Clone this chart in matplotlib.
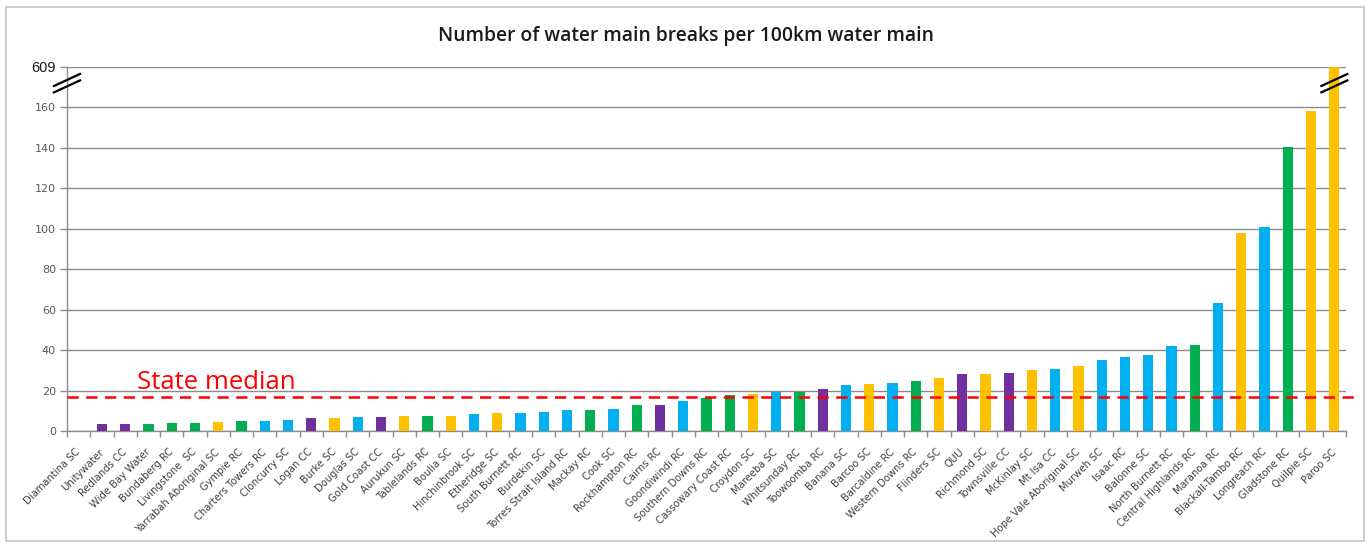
import matplotlib
matplotlib.use("Agg")
import matplotlib.pyplot as plt
import matplotlib.transforms as mtransforms
from matplotlib.lines import Line2D
from matplotlib.patches import Rectangle

# ---- data ---------------------------------------------------------------
councils = [
    "Diamantina SC", "Unitywater", "Redlands CC", "Wide Bay Water", "Bundaberg RC",
    "Livingstone  SC", "Yarrabah Aboriginal SC", "Gympie RC", "Charters Towers RC",
    "Cloncurry SC", "Logan CC", "Burke SC", "Douglas SC", "Gold Coast CC", "Aurukun SC",
    "Tablelands RC", "Boulia SC", "Hinchinbrook SC", "Etheridge SC", "South Burnett RC",
    "Burdekin SC", "Torres Strait Island RC", "Mackay RC", "Cook SC", "Rockhampton RC",
    "Cairns RC", "Goondiwindi RC", "Southern Downs RC", "Cassowary Coast RC", "Croydon SC",
    "Mareeba SC", "Whitsunday RC", "Toowoomba RC", "Banana SC", "Barcoo SC",
    "Barcaldine RC", "Western Downs RC", "Flinders SC", "QUU", "Richmond SC",
    "Townsville CC", "McKinlay SC", "Mt Isa CC", "Hope Vale Aboriginal SC", "Murweh SC",
    "Isaac RC", "Balonne SC", "North Burnett RC", "Central Highlands RC", "Maranoa RC",
    "Blackall-Tambo RC", "Longreach RC", "Gladstone RC", "Quilpie SC", "Paroo SC",
]

breaks_per_100km = [
    0.0, 3.7, 3.7, 3.7, 4.2,
    4.2, 4.3, 5.0, 5.0,
    5.3, 6.3, 6.3, 7.0, 7.0, 7.3,
    7.3, 7.3, 8.3, 9.0, 9.0,
    9.3, 10.3, 10.3, 11.0, 12.7,
    13.0, 15.0, 16.5, 17.9, 18.5,
    19.3, 19.3, 20.8, 22.8, 23.3,
    23.5, 24.6, 26.4, 28.2, 28.2,
    28.8, 30.1, 30.7, 32.2, 35.2,
    36.7, 37.4, 42.0, 42.5, 63.1,
    98.0, 101.0, 140.5, 158.0, 609.0,
]

# service-provider group of each council (drives bar colour)
groups = [
    "P", "P", "P", "G", "G",
    "G", "Y", "G", "B",
    "B", "P", "Y", "B", "P", "Y",
    "G", "Y", "B", "Y", "B",
    "B", "B", "G", "B", "G",
    "P", "B", "G", "G", "Y",
    "B", "G", "P", "B", "Y",
    "B", "G", "Y", "P", "Y",
    "P", "Y", "B", "Y", "B",
    "B", "B", "B", "G", "B",
    "Y", "B", "G", "Y", "Y",
]

state_median = 17.0
y_ticks = [0, 20, 40, 60, 80, 100, 120, 140, 160, 180]
break_at = 172  # where the broken axis is marked

group_colours = {"P": "#7030A0", "G": "#00B050", "B": "#00B0F0", "Y": "#FFC000"}

# ---- figure ---------------------------------------------------------------
W, H = 1368, 544
fig = plt.figure(figsize=(W / 100, H / 100), dpi=100)
fig.patch.set_facecolor("white")

# outer chart frame
fig.add_artist(Rectangle((6 / W, 3 / H), (1364 - 6) / W, (537 - 3) / H,
                         transform=fig.transFigure, fill=False,
                         edgecolor="#C8C8C8", linewidth=1.3))

ax_l, ax_r, ax_t, ax_b = 67, 1346, 67, 431
ax = fig.add_axes([ax_l / W, 1 - ax_b / H, (ax_r - ax_l) / W, (ax_b - ax_t) / H])

n = len(councils)
x = list(range(n))
ax.bar(x, breaks_per_100km, width=0.44,
       color=[group_colours[g] for g in groups], zorder=3)

ax.set_xlim(-0.5, n - 0.5)
ax.set_ylim(y_ticks[0], y_ticks[-1])

# y axis: the top tick stands for the clipped maximum
ax.set_yticks(y_ticks)
ylabels = [str(t) for t in y_ticks]
ylabels[-1] = str(int(max(breaks_per_100km)))
ax.set_yticklabels(ylabels)
for lbl in ax.get_yticklabels():
    lbl.set_fontsize(8)
    lbl.set_color("#595959")
top_lbl = ax.get_yticklabels()[-1]
top_lbl.set_fontsize(10.5)
top_lbl.set_color("#1a1a1a")
top_lbl.set_fontfamily("Liberation Sans")
ax.tick_params(axis="y", length=5, width=1, color="#8C8C8C", pad=3)

ax.yaxis.grid(True, color="#8C8C8C", linewidth=1.0, zorder=0)
ax.set_axisbelow(True)

# x axis: category labels, ticks between categories
ax.set_xticks(x)
ax.set_xticklabels(councils, rotation=45, ha="right", va="center",
                   rotation_mode="anchor", fontsize=7.2, color="#404040")
ax.tick_params(axis="x", which="major", length=0, pad=14)
ax.set_xticks([i + 0.5 for i in range(-1, n)], minor=True)
ax.tick_params(axis="x", which="minor", length=4, width=1, color="#8C8C8C")

for side in ("top", "right"):
    ax.spines[side].set_visible(False)
for side in ("left", "bottom"):
    ax.spines[side].set_color("#8C8C8C")
    ax.spines[side].set_linewidth(1.0)

# state median reference line and label
ax.axhline(state_median, xmin=0, xmax=1.007, color="#FF0000", linewidth=1.8,
           linestyle=(0, (4.5, 3)), clip_on=False, zorder=4)
ax.text(0.0547, 20.6, "State median", transform=ax.get_yaxis_transform(),
        color="#FF0000", fontsize=18.5, family="Open Sans", va="baseline", ha="left")


def break_marks(xd):
    """Two short parallel slashes centred on (xd, break_at)."""
    fig.canvas.draw()
    px, py = ax.transData.transform((xd, break_at))
    for dy in (-3.2, 3.2):
        line = Line2D([px - 13, px + 13], [py + dy - 6, py + dy + 6],
                      transform=mtransforms.IdentityTransform(),
                      color="black", linewidth=1.6, zorder=6)
        fig.add_artist(line)


# axis-break marks on the y axis and on the clipped bar
break_marks(-0.5)
break_marks(breaks_per_100km.index(max(breaks_per_100km)))

# title
fig.text(686 / W, 1 - 36 / H, "Number of water main breaks per 100km water main",
         ha="center", va="center", fontsize=13.9, fontweight="semibold",
         family="Open Sans", color="#1a1a1a")

fig.savefig("out.png", dpi=100, facecolor="white")
